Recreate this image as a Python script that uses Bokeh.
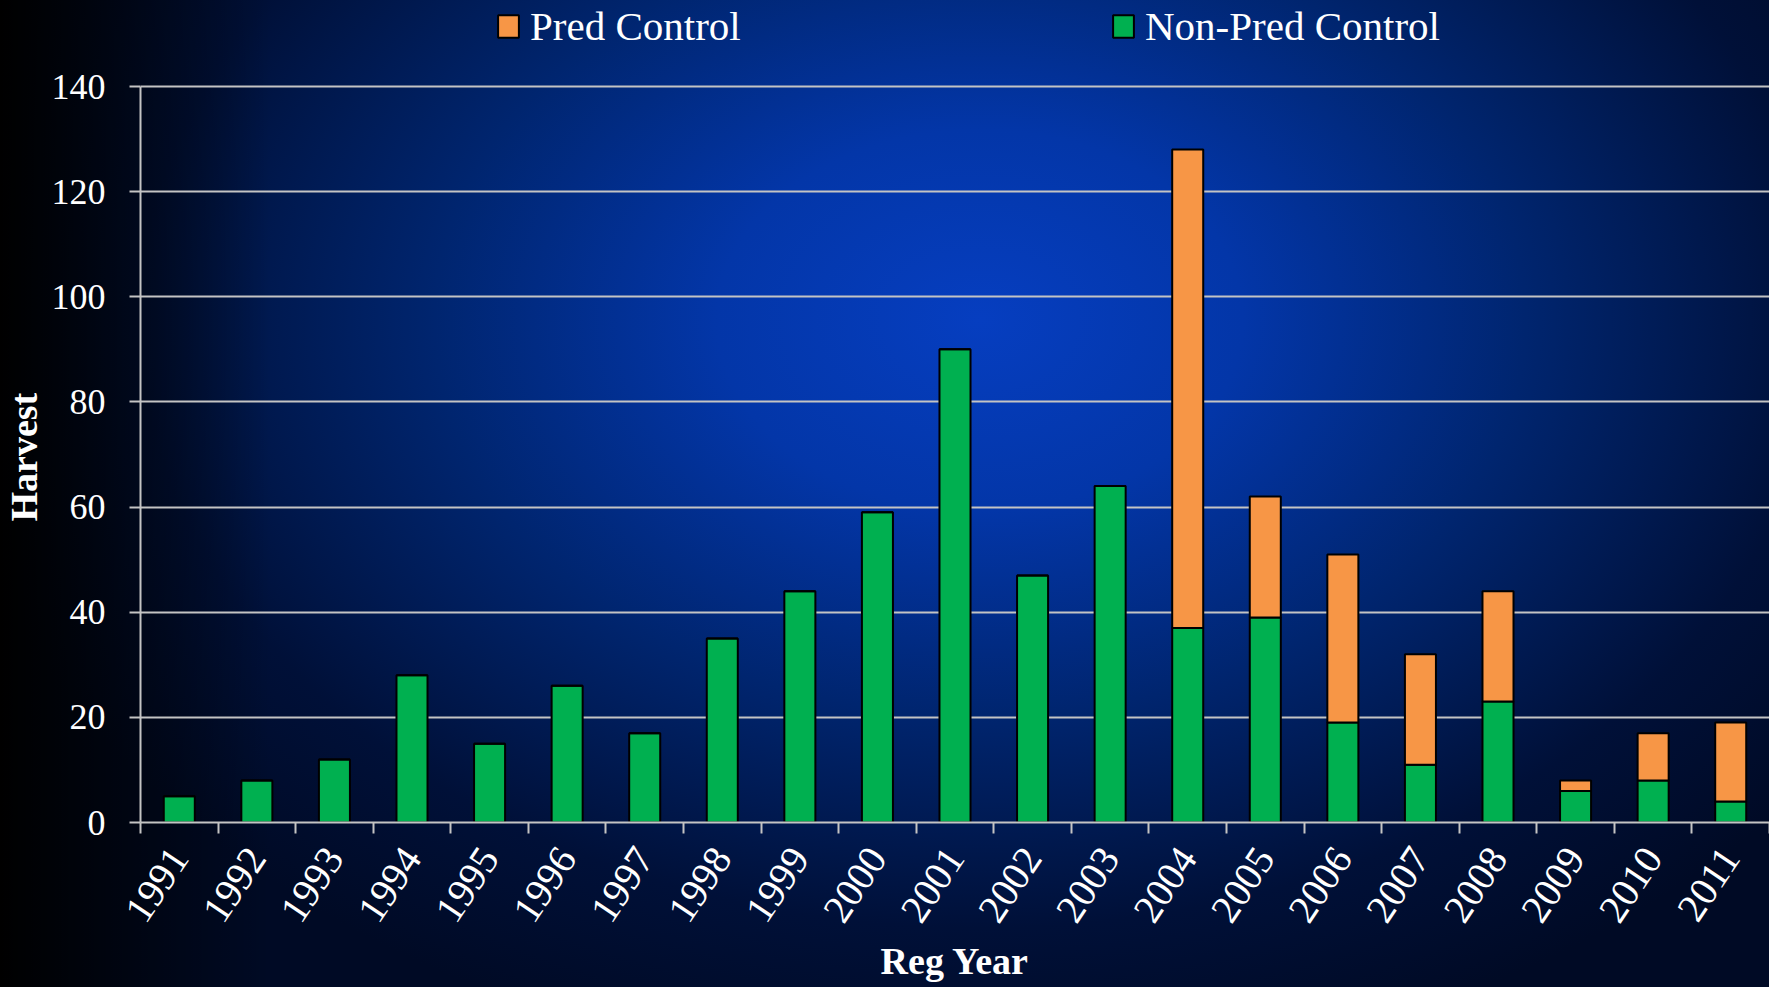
import numpy as np
from bokeh.plotting import figure
from bokeh.models import ColumnDataSource, Range1d, FixedTicker, Legend, LegendItem, Title
from bokeh.embed import file_html
from bokeh.resources import INLINE

years = ["1991", "1992", "1993", "1994", "1995", "1996", "1997", "1998", "1999", "2000",
         "2001", "2002", "2003", "2004", "2005", "2006", "2007", "2008", "2009", "2010", "2011"]
non_pred = [5, 8, 12, 28, 15, 26, 17, 35, 44, 59, 90, 47, 64, 37, 39, 19, 11, 23, 6, 8, 4]
pred = [0, 0, 0, 0, 0, 0, 0, 0, 0, 0, 0, 0, 0, 91, 23, 32, 21, 21, 2, 9, 15]
y_ticks = [0, 20, 40, 60, 80, 100, 120, 140]

GREEN = "#00b050"
ORANGE = "#f79646"
GRID = "#c4c4c4"
FONT = "Liberation Serif"

W, H = 1769, 987
FRAME_BOTTOM = 822          # pixel row of value 0
TOP_PX = 86                 # pixel row of value 140
y_max = y_ticks[-1]
y_top = y_max * FRAME_BOTTOM / (FRAME_BOTTOM - TOP_PX)   # frame reaches canvas top

n = len(years)
xs = [i + 0.5 for i in range(n)]
src = ColumnDataSource(dict(x=xs, non_pred=non_pred, pred=pred, year=years))

p = figure(width=W, height=H, output_backend="svg", toolbar_location=None,
           x_range=Range1d(0, n), y_range=Range1d(0, y_top),
           min_border_left=140, min_border_right=0, min_border_top=0,
           min_border_bottom=H - FRAME_BOTTOM)

p.background_fill_color = None
p.border_fill_color = None
p.outline_line_color = None
p.styles = {
    "background": ("linear-gradient(to right, rgba(0,0,0,1) 0px, rgba(0,0,0,0) 270px), "
                   "radial-gradient(ellipse 1050px 760px at 980px 320px, "
                   "#063ec0 0%, #0336a8 25%, #00256f 52%, #001038 80%, #000a25 100%)"),
}

rs = p.vbar_stack(["non_pred", "pred"], x="x", width=0.4, source=src,
                  fill_color=[GREEN, ORANGE], line_color="black", line_width=2)

# axes
xa = p.xaxis[0]
ya = p.yaxis[0]
xa.ticker = FixedTicker(ticks=xs, minor_ticks=list(range(n + 1)))
xa.major_label_overrides = {x: y for x, y in zip(xs, years)}
xa.major_tick_out = 0
xa.major_tick_in = 0
xa.minor_tick_out = 11
xa.minor_tick_in = 0
xa.minor_tick_line_color = GRID
xa.minor_tick_line_width = 2
xa.major_label_orientation = 0.98
xa.major_label_standoff = 18
xa.major_label_text_font_size = "40px"
xa.axis_label = "Reg Year"
xa.axis_label_standoff = 5
xa.axis_label_text_font_size = "38px"

ya.ticker = FixedTicker(ticks=y_ticks)
ya.bounds = (0, y_max)
ya.major_tick_out = 11
ya.major_tick_in = 0
ya.minor_tick_line_color = None
ya.major_tick_line_color = GRID
ya.major_tick_line_width = 2
ya.major_label_standoff = 24
ya.major_label_text_font_size = "36px"

for ax in (xa, ya):
    ax.axis_line_color = GRID
    ax.axis_line_width = 2
    ax.major_label_text_font = FONT
    ax.major_label_text_color = "white"
    ax.axis_label_text_font = FONT
    ax.axis_label_text_font_style = "bold"
    ax.axis_label_text_color = "white"

# y-axis title, centred on the 0..140 span of the axis
ytitle = Title(text="Harvest", align="left", offset=FRAME_BOTTOM - 521,
               vertical_align="top", standoff=4,
               text_font=FONT, text_font_size="38px", text_font_style="bold",
               text_color="white")
p.add_layout(ytitle, "left")

p.xgrid.visible = False
p.ygrid.grid_line_color = GRID
p.ygrid.grid_line_width = 2

legend = Legend(items=[LegendItem(label="Pred Control", renderers=[rs[1]]),
                       LegendItem(label="Non-Pred Control", renderers=[rs[0]])],
                orientation="horizontal", location=(355, 772),
                glyph_width=26, glyph_height=28, label_standoff=9,
                label_width=580, spacing=0, padding=0, margin=0,
                border_line_color=None, background_fill_alpha=0,
                label_text_font=FONT, label_text_font_size="41px",
                label_text_color="white")
p.add_layout(legend, "center")

open("out.html", "w").write(file_html(p, INLINE))
